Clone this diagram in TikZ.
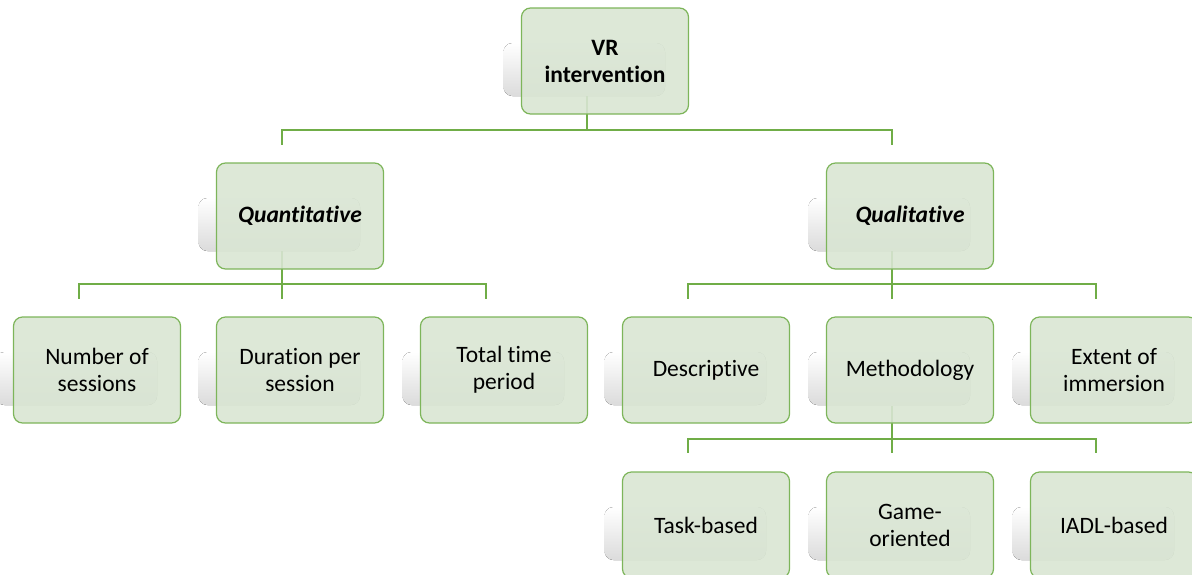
\documentclass[tikz,border=0pt]{standalone}
\usepackage{fontspec}
\setmainfont{Carlito}[Ligatures=NoCommon]
\definecolor{boxfill}{RGB}{217,229,211}
\definecolor{boxline}{RGB}{125,181,90}
\definecolor{connline}{RGB}{112,173,71}
\tikzset{
  gbox/.style={draw=boxline, line width=1.2pt, fill=boxfill, fill opacity=0.9, text opacity=1,
    rounded corners=9pt, minimum width=167pt, minimum height=106pt, align=center,
    font=\fontsize{23.5}{27}\selectfont, text=black, inner sep=2pt},
  gshadow/.style={rounded corners=9pt, top color=white, bottom color=black!14},
  conn/.style={draw=connline, line width=1.4pt}
}
\newcommand\mkbox[5]{%
  \fill[gshadow] (#2-101.5,#3+35) rectangle (#2+60,#3+88);
  \node[gbox,#5] (#1) at (#2,#3+53) {#4};
}
\begin{document}
\begin{tikzpicture}[x=1pt,y=-1pt]
\useasboundingbox (0,0) rectangle (1192,574);
\clip (0,0) rectangle (1192,574);
\coordinate (bar1) at (0,130);
\coordinate (bar2) at (0,284);
\coordinate (bar3) at (0,439);
% connectors (drawn first, under boxes)
\coordinate (vr-s) at (587,96);
\coordinate (qn-s) at (282,251);
\coordinate (ql-s) at (892,251);
\coordinate (me-s) at (892,406);
\coordinate (qn-t) at (282,145);
\coordinate (ql-t) at (892,145);
\coordinate (ns-t) at (79,299);
\coordinate (dp-t) at (282,299);
\coordinate (tt-t) at (486,299);
\coordinate (de-t) at (688,299);
\coordinate (me-t) at (892,299);
\coordinate (ex-t) at (1096,299);
\coordinate (tb-t) at (688,453);
\coordinate (go-t) at (892,453);
\coordinate (ia-t) at (1096,453);
\foreach \c in {qn,ql}{\draw[conn] (vr-s) -- (vr-s |- bar1) -| (\c-t);}
\foreach \c in {ns,dp,tt}{\draw[conn] (qn-s) -- (qn-s |- bar2) -| (\c-t);}
\foreach \c in {de,me,ex}{\draw[conn] (ql-s) -- (ql-s |- bar2) -| (\c-t);}
\foreach \c in {tb,go,ia}{\draw[conn] (me-s) -- (me-s |- bar3) -| (\c-t);}
% boxes
\mkbox{vr}{605}{8}{VR\\intervention}{font=\fontsize{23.5}{27}\selectfont\bfseries}
\mkbox{qn}{300}{163}{Quantitative}{font=\fontsize{23.5}{27}\selectfont\bfseries\itshape}
\mkbox{ql}{910}{163}{Qualitative}{font=\fontsize{23.5}{27}\selectfont\bfseries\itshape}
\mkbox{ns}{97}{317}{Number of\\sessions}{}
\mkbox{dp}{300}{317}{Duration per\\session}{}
\mkbox{tt}{504}{317}{Total time\\period}{}
\mkbox{de}{706}{317}{Descriptive}{}
\mkbox{me}{910}{317}{Methodology}{}
\mkbox{ex}{1114}{317}{Extent of\\immersion}{}
\mkbox{tb}{706}{472}{Task-based}{}
\mkbox{go}{910}{472}{Game-\\oriented}{}
\mkbox{ia}{1114}{472}{IADL-based}{}
\end{tikzpicture}
\end{document}
